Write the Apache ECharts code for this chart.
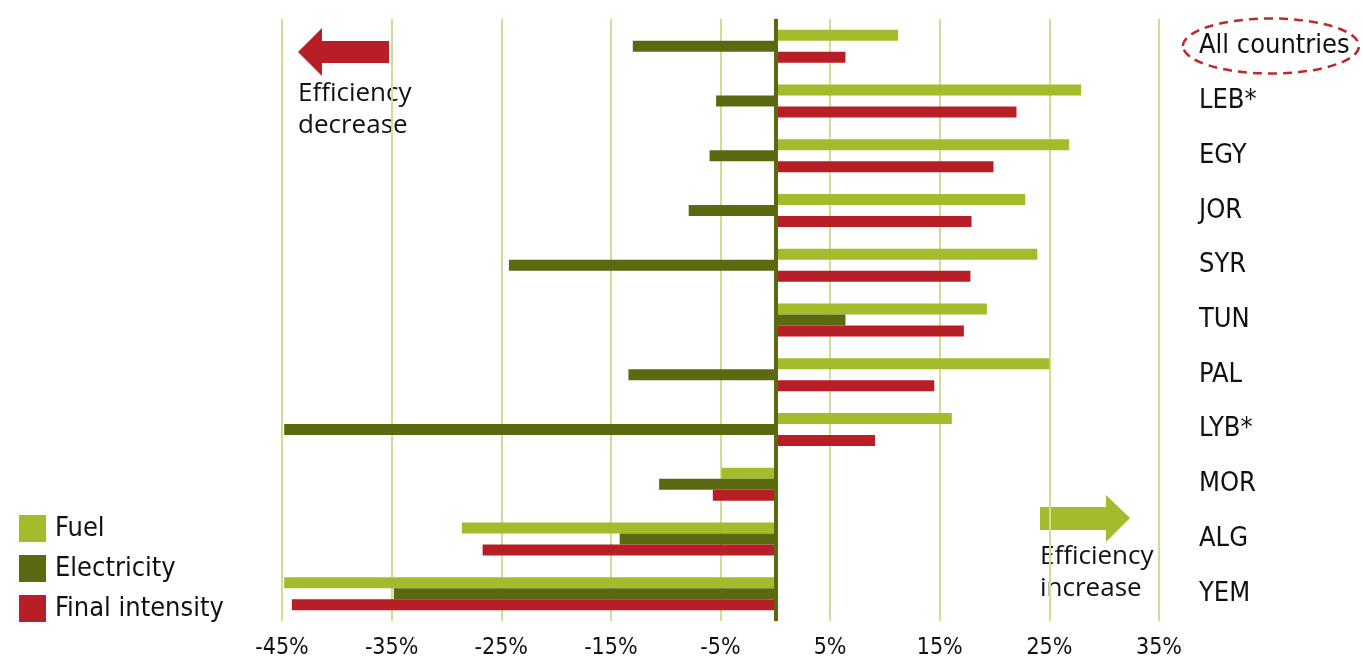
<!DOCTYPE html>
<html>
<head>
<meta charset="utf-8">
<script src="https://cdn.jsdelivr.net/npm/echarts@6/dist/echarts.min.js"></script>
<style>
  html, body { margin: 0; padding: 0; background: #ffffff; }
  #chart { width: 1363px; height: 660px; }
</style>
</head>
<body>
<div id="chart"></div>
<script>
// Change in energy efficiency by country (%), split by energy type
const countries = ['All countries', 'LEB*', 'EGY', 'JOR', 'SYR', 'TUN', 'PAL', 'LYB*', 'MOR', 'ALG', 'YEM'];
const fuel        = [11.2, 27.9, 26.8, 22.8, 23.9, 19.3, 25.0, 16.1, -4.9, -28.6, -44.8];
const electricity = [-13.0, -5.4, -6.0, -7.9, -24.3, 6.4, -13.4, -44.8, -10.6, -14.2, -34.8];
const finalIntensity = [6.4, 22.0, 19.9, 17.9, 17.8, 17.2, 14.5, 9.1, -5.7, -26.7, -44.1];

const axisMin = -45, axisMax = 35, axisStep = 10;

const C_FUEL = '#a4bb2b';
const C_ELEC = '#5b6a10';
const C_FINAL = '#b71e25';
const TEXT = '#111111';
const FONT = '"DejaVu Sans Condensed", "DejaVu Sans", sans-serif';
const NOTE_FONT = '"Open Sans", "Noto Sans", sans-serif';

const chart = echarts.init(document.getElementById('chart'));

const barSeries = (name, data, color) => ({
  name, type: 'bar', data,
  barWidth: 11, barGap: '0%',
  itemStyle: { color },
  emphasis: { disabled: true },
  animation: false
});

const option = {
  animation: false,
  grid: { left: 282, right: 204, top: 19, bottom: 39, containLabel: false },
  legend: {
    orient: 'vertical', left: 19, top: 515, padding: 0,
    itemWidth: 27, itemHeight: 27, itemGap: 13,
    icon: 'rect',
    textStyle: { fontFamily: FONT, fontSize: 27, color: TEXT, padding: [0, 0, 0, 4] },
    data: ['Fuel', 'Electricity', 'Final intensity']
  },
  xAxis: {
    type: 'value', min: axisMin, max: axisMax, interval: axisStep,
    axisLine: { show: false }, axisTick: { show: false },
    splitLine: { show: true, lineStyle: { color: '#cfdd96', width: 2 } },
    axisLabel: { formatter: '{value}%', fontFamily: FONT, fontSize: 23, color: TEXT, margin: 16 }
  },
  yAxis: {
    type: 'category', data: countries, inverse: true, position: 'right',
    axisLine: { show: false }, axisTick: { show: false }, splitLine: { show: false },
    axisLabel: { align: 'left', margin: 40, fontFamily: FONT, fontSize: 27, color: TEXT, padding: [4, 0, 0, 0] }
  },
  series: [
    barSeries('Fuel', fuel, C_FUEL),
    barSeries('Electricity', electricity, C_ELEC),
    Object.assign(barSeries('Final intensity', finalIntensity, C_FINAL), {
      markLine: {
        silent: true, symbol: ['none', 'none'], label: { show: false },
        lineStyle: { color: C_ELEC, width: 4, type: 'solid' },
        data: [{ xAxis: 0 }]
      }
    })
  ],
  graphic: [
    // left arrow: efficiency decrease
    { type: 'polygon', shape: { points: [[298, 52], [322, 28], [322, 41], [389, 41], [389, 63], [322, 63], [322, 76]] },
      style: { fill: C_FINAL } },
    { type: 'text', x: 298, y: 94, style: { text: 'Efficiency', font: '26px ' + NOTE_FONT, fill: TEXT, textVerticalAlign: 'middle' } },
    { type: 'text', x: 298, y: 126, style: { text: 'decrease', font: '26px ' + NOTE_FONT, fill: TEXT, textVerticalAlign: 'middle' } },
    // right arrow: efficiency increase
    { type: 'polygon', shape: { points: [[1040, 507], [1106, 507], [1106, 495], [1130, 518], [1106, 542], [1106, 530], [1040, 530]] },
      style: { fill: C_FUEL } },
    { type: 'text', x: 1040, y: 557, style: { text: 'Efficiency', font: '26px ' + NOTE_FONT, fill: TEXT, textVerticalAlign: 'middle' } },
    { type: 'text', x: 1040, y: 589, style: { text: 'increase', font: '26px ' + NOTE_FONT, fill: TEXT, textVerticalAlign: 'middle' } },
    // dashed ring around the aggregate row label
    { type: 'ellipse', shape: { cx: 1271, cy: 46, rx: 88, ry: 27.5 },
      style: { fill: 'none', stroke: '#c0282d', lineWidth: 2.5, lineDash: [9, 6] } }
  ]
};

chart.setOption(option);
</script>
</body>
</html>
